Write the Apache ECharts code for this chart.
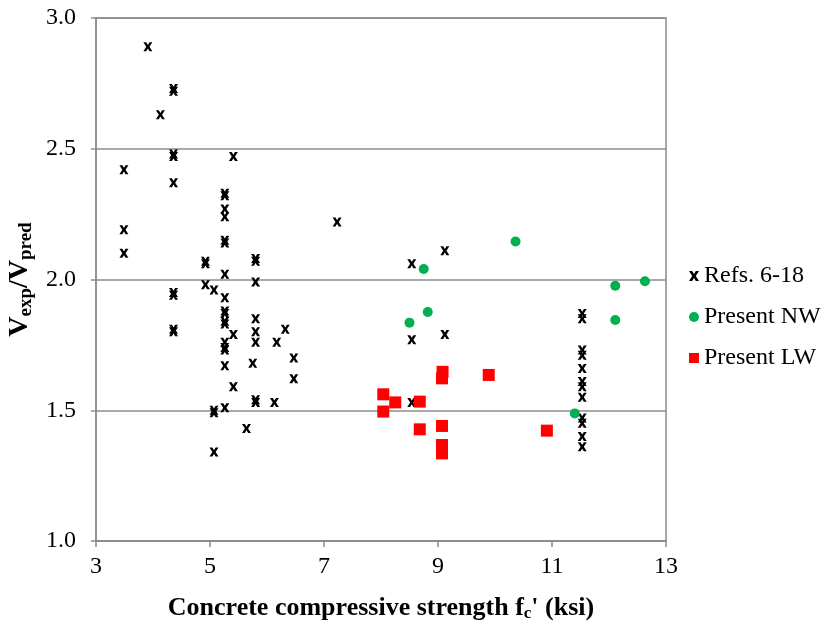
<!DOCTYPE html>
<html>
<head>
<meta charset="utf-8">
<script src="https://cdn.jsdelivr.net/npm/echarts@6/dist/echarts.min.js"></script>
<style>
  html, body { margin: 0; padding: 0; background: #fff; }
  #chart { width: 822px; height: 622px; }
</style>
</head>
<body>
<div id="chart"></div>
<script>
// values: [fc' (ksi), Vexp/Vpred]
const refsData = [
  [3.91, 2.89], [4.36, 2.73], [4.36, 2.72], [4.13, 2.63],
  [4.36, 2.48], [4.36, 2.47], [5.41, 2.47], [3.49, 2.42], [4.36, 2.37],
  [5.26, 2.33], [5.26, 2.32], [5.26, 2.27], [5.26, 2.24], [7.23, 2.22],
  [3.49, 2.19], [5.26, 2.15], [5.26, 2.14], [3.49, 2.10],
  [4.92, 2.07], [4.92, 2.06], [5.80, 2.08], [5.80, 2.07], [5.26, 2.02],
  [5.80, 1.99], [4.92, 1.98], [5.07, 1.96], [4.36, 1.95], [4.36, 1.94],
  [5.26, 1.93], [5.26, 1.88], [5.26, 1.87], [5.26, 1.84], [5.26, 1.83],
  [5.80, 1.85], [4.36, 1.81], [4.36, 1.80], [5.41, 1.79], [5.80, 1.80],
  [6.32, 1.81], [6.17, 1.76], [5.80, 1.76], [5.26, 1.76], [5.26, 1.74],
  [5.26, 1.73], [6.47, 1.70], [5.75, 1.68], [5.26, 1.67], [6.47, 1.62],
  [5.41, 1.59], [5.80, 1.54], [5.80, 1.53], [6.13, 1.53], [5.26, 1.51],
  [5.07, 1.50], [5.07, 1.49], [5.64, 1.43], [5.07, 1.34],
  [9.12, 2.11], [8.54, 2.06], [9.12, 1.79], [8.54, 1.77], [8.54, 1.53],
  [11.53, 1.87], [11.53, 1.85], [11.53, 1.73], [11.53, 1.71], [11.53, 1.66],
  [11.53, 1.61], [11.53, 1.59], [11.53, 1.55], [11.53, 1.47], [11.53, 1.45],
  [11.53, 1.40], [11.53, 1.36]
]
const nwData = [
  [10.36, 2.145], [8.75, 2.04], [12.11, 1.976], [12.63, 1.993],
  [8.82, 1.876], [8.50, 1.835], [12.11, 1.845], [11.40, 1.488]
]
const lwData = [
  [9.08, 1.647], [9.07, 1.622], [9.89, 1.635], [8.04, 1.561],
  [8.25, 1.530], [8.68, 1.533], [8.04, 1.495], [8.68, 1.427],
  [9.07, 1.440], [10.91, 1.422], [9.07, 1.367], [9.07, 1.335]
]
const xTicks = { min: 3, max: 13, interval: 2 }
const yTicks = { min: 1, max: 3, interval: 0.5 }

const font = '"Liberation Serif", "Times New Roman", serif'
const crossMark = 'path://M0,0 L3.2,0 L5,3 L6.8,0 L10,0 L6.8,5 L10,10 L6.8,10 L5,7 L3.2,10 L0,10 L3.2,5 Z'

const chart = echarts.init(document.getElementById('chart'))
chart.setOption({
  animation: false,
  textStyle: { fontFamily: font },
  grid: {
    left: 96, right: 156, top: 18, bottom: 81,
    show: true, borderColor: '#8c8c8c', borderWidth: 1.5,
    outerBoundsMode: 'none'
  },
  legend: {
    orient: 'vertical',
    left: 684,
    top: 259,
    padding: 5,
    itemGap: 17,
    itemWidth: 10,
    itemHeight: 10,
    textStyle: { fontFamily: font, fontSize: 24, color: '#000' },
    data: ['Refs. 6-18', 'Present NW', 'Present LW']
  },
  xAxis: {
    type: 'value',
    min: xTicks.min, max: xTicks.max, interval: xTicks.interval,
    name: "{b|Concrete compressive strength f}{s|c}{b|' (ksi)}",
    nameLocation: 'middle',
    nameGap: 53,
    nameTextStyle: {
      rich: {
        b: { fontFamily: font, fontSize: 26, fontWeight: 'bold', color: '#000', lineHeight: 28 },
        s: { fontFamily: font, fontSize: 17, fontWeight: 'bold', color: '#000', lineHeight: 28, padding: [12, 0, 0, 0] }
      }
    },
    axisLine: { lineStyle: { color: '#8c8c8c', width: 1.5 } },
    axisTick: { show: true, inside: false, length: 6, lineStyle: { color: '#8c8c8c', width: 1.5 } },
    axisLabel: { fontFamily: font, fontSize: 24, color: '#000', margin: 14 },
    splitLine: { show: false }
  },
  yAxis: {
    type: 'value',
    min: yTicks.min, max: yTicks.max, interval: yTicks.interval,
    name: '{b|V}{s|exp}{b|/V}{s|pred}',
    nameLocation: 'middle',
    nameGap: 46,
    nameRotate: 90,
    nameTextStyle: {
      rich: {
        b: { fontFamily: font, fontSize: 28, fontWeight: 'bold', color: '#000', lineHeight: 30 },
        s: { fontFamily: font, fontSize: 19, fontWeight: 'bold', color: '#000', lineHeight: 30, padding: [12, 0, 0, 0] }
      }
    },
    axisLine: { show: true, lineStyle: { color: '#8c8c8c', width: 1.5 } },
    axisTick: { show: true, inside: false, length: 5, lineStyle: { color: '#8c8c8c', width: 1.5 } },
    axisLabel: {
      fontFamily: font, fontSize: 24, color: '#000', margin: 20,
      formatter: v => v.toFixed(1)
    },
    splitLine: { show: true, lineStyle: { color: '#8c8c8c', width: 1.5 } }
  },
  series: [
    {
      name: 'Refs. 6-18',
      type: 'scatter',
      symbol: crossMark,
      symbolSize: [9, 9],
      itemStyle: { color: '#000', opacity: 1 },
      data: refsData
    },
    {
      name: 'Present NW',
      type: 'scatter',
      symbol: 'circle',
      symbolSize: 10,
      itemStyle: { color: '#00B050', opacity: 1 },
      data: nwData
    },
    {
      name: 'Present LW',
      type: 'scatter',
      symbol: 'rect',
      symbolSize: 12,
      itemStyle: { color: '#FF0000', opacity: 1 },
      data: lwData
    }
  ]
})
</script>
</body>
</html>
